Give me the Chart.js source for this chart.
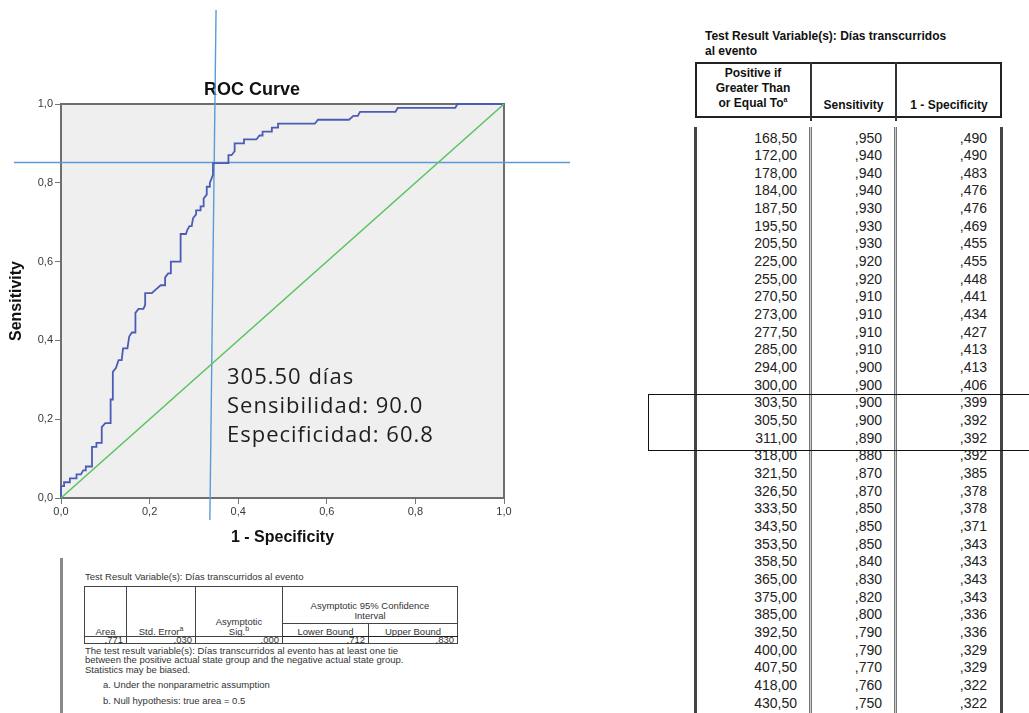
<!DOCTYPE html>
<html lang="es">
<head>
<meta charset="utf-8">
<title>ROC Curve</title>
<script src="https://cdn.jsdelivr.net/npm/chart.js@4.4.0/dist/chart.umd.min.js"></script>
<style>
  html, body { margin: 0; padding: 0; background: #fff; }
  body { width: 1029px; height: 713px; position: relative; overflow: hidden;
         font-family: "Liberation Sans", Arial, sans-serif; color: #222; }
  #rocWrap { position: absolute; left: 0; top: 0; width: 580px; height: 560px; }
  #nota { position: absolute; left: 227px; top: 361px; font-family: "Open Sans", sans-serif;
          font-size: 22px; line-height: 29px; letter-spacing: 1px; color: #1e1e1e; white-space: nowrap; }
  .ln { position: absolute; }
  /* tabla area */
  #aucTitulo { position: absolute; left: 85px; top: 571px; font-size: 9.5px; color: #333; white-space: nowrap; }
  table.auc { position: absolute; left: 84px; top: 586px; width: 373px; border-collapse: collapse;
              table-layout: fixed; font-size: 9.5px; color: #333; border: 1.5px solid #222; }
  table.auc td { border: 1px solid #444; padding: 0 3px; text-align: center; vertical-align: bottom;
                 line-height: 9.5px; white-space: nowrap; overflow: visible; }
  table.auc td.r { text-align: right; line-height: 6px; vertical-align: middle; }
  table.auc tr.sep td { border-bottom: 1.5px solid #222; }
  #aucNotas { position: absolute; left: 85px; top: 646px; font-size: 9.5px; line-height: 9.3px; color: #333; white-space: nowrap; }
  .nota2 { position: absolute; left: 103px; font-size: 9.5px; color: #333; white-space: nowrap; }
  sup { font-size: 7px; line-height: 0; }
  /* tabla coordenadas */
  #coordTitulo { position: absolute; left: 705px; top: 28.5px; font-weight: bold; font-size: 12px; line-height: 15px; color: #111; }
  .hcol { position: absolute; text-align: center; font-weight: bold; font-size: 12px; line-height: 15px; color: #111; }
  .fila { position: absolute; left: 695px; width: 307px; height: 17.66px; line-height: 17.66px; font-size: 14px; color: #222; }
  .fila span { position: absolute; top: 0; }
  .c1 { right: 205px; } .c2 { right: 120px; } .c3 { right: 15px; }
</style>
</head>
<body>

<div id="rocWrap"><canvas id="roc" width="580" height="560"></canvas></div>
<div id="nota">305.50 días<br>Sensibilidad: 90.0<br>Especificidad: 60.8</div>

<!-- area bajo la curva -->
<div class="ln" style="left:60px;top:558px;width:2.5px;height:160px;background:#8a8a8a"></div>
<div id="aucTitulo">Test Result Variable(s): Días transcurridos al evento</div>
<table class="auc">
  <colgroup><col style="width:42px"><col style="width:69px"><col style="width:87px"><col style="width:86px"><col style="width:89px"></colgroup>
  <tr style="height:37px">
    <td rowspan="2">Area</td><td rowspan="2">Std. Error<sup>a</sup></td><td rowspan="2">Asymptotic<br>Sig.<sup>b</sup></td>
    <td colspan="2" style="padding-bottom:3px">Asymptotic 95% Confidence<br>Interval</td>
  </tr>
  <tr class="sep" style="height:13px"><td>Lower Bound</td><td>Upper Bound</td></tr>
  <tr id="aucFila" style="height:6px"></tr>
</table>
<div id="aucNotas">The test result variable(s): Días transcurridos al evento has at least one tie<br>between the positive actual state group and the negative actual state group.<br>Statistics may be biased.</div>
<div class="nota2" style="top:679px">a. Under the nonparametric assumption</div>
<div class="nota2" style="top:695px">b. Null hypothesis: true area = 0.5</div>

<!-- coordenadas de la curva -->
<div id="coordTitulo">Test Result Variable(s): Días transcurridos<br>al evento</div>
<div class="ln" style="left:695px;top:61.5px;width:307px;height:56px;border:2px solid #222;box-sizing:border-box"></div>
<div class="ln" style="left:809.5px;top:61.5px;width:2px;height:59px;background:#333"></div>
<div class="ln" style="left:894.5px;top:61.5px;width:2px;height:59px;background:#333"></div>
<div class="hcol" style="left:695px;width:116px;top:65.5px">Positive if<br>Greater Than<br>or Equal To<sup>a</sup></div>
<div class="hcol" style="left:811px;width:85px;top:97.5px">Sensitivity</div>
<div class="hcol" style="left:896px;width:106px;top:97.5px">1 - Specificity</div>
<div class="ln" style="left:694px;top:127px;width:3px;height:600px;background:#444"></div>
<div class="ln" style="left:809px;top:127px;width:1px;height:600px;border-left:1px solid #777;border-right:1px solid #777;background:#ccc"></div>
<div class="ln" style="left:894px;top:127px;width:1px;height:600px;border-left:1px solid #777;border-right:1px solid #777;background:#ccc"></div>
<div class="ln" style="left:999.5px;top:127px;width:3.5px;height:600px;background:#444"></div>
<div id="filas"></div>
<div class="ln" style="left:648px;top:393.5px;width:420px;height:57.5px;border:1.5px solid #111;box-sizing:border-box;z-index:5"></div>

<script>
// curva ROC (1 - especificidad, sensibilidad)
const rocFpr = [0, 0, 0.007, 0.007, 0.02, 0.02, 0.035, 0.035, 0.045, 0.05, 0.056, 0.056, 0.07, 0.07,
  0.08, 0.08, 0.092, 0.092, 0.1, 0.112, 0.112, 0.117, 0.117, 0.124, 0.13, 0.137, 0.14, 0.15, 0.154,
  0.16, 0.168, 0.168, 0.175, 0.186, 0.19, 0.19, 0.205, 0.215, 0.225, 0.235, 0.235, 0.242, 0.248,
  0.248, 0.27, 0.27, 0.282, 0.285, 0.29, 0.295, 0.298, 0.305, 0.305, 0.315, 0.315, 0.322, 0.322,
  0.329, 0.329, 0.336, 0.336, 0.343, 0.343, 0.378, 0.378, 0.385, 0.392, 0.392, 0.413, 0.413,
  0.441, 0.448, 0.455, 0.455, 0.476, 0.476, 0.49, 0.49, 0.573, 0.58, 0.65, 0.66, 0.67, 0.675,
  0.755, 0.76, 0.89, 0.895, 1.0];
const rocSens = [0, 0.03, 0.03, 0.04, 0.04, 0.05, 0.05, 0.06, 0.06, 0.07, 0.07, 0.08, 0.08, 0.13,
  0.13, 0.14, 0.14, 0.18, 0.19, 0.19, 0.25, 0.25, 0.32, 0.33, 0.35, 0.35, 0.38, 0.38, 0.41,
  0.42, 0.42, 0.47, 0.48, 0.48, 0.49, 0.52, 0.52, 0.53, 0.54, 0.54, 0.56, 0.57, 0.57,
  0.60, 0.60, 0.67, 0.67, 0.68, 0.69, 0.69, 0.71, 0.72, 0.73, 0.73, 0.74, 0.74, 0.76,
  0.77, 0.79, 0.79, 0.80, 0.82, 0.85, 0.85, 0.87, 0.87, 0.88, 0.90, 0.90, 0.91,
  0.91, 0.92, 0.92, 0.93, 0.93, 0.94, 0.94, 0.95, 0.95, 0.96, 0.96, 0.97, 0.97, 0.98,
  0.98, 0.99, 0.99, 1.0, 1.0];
const diagFpr = [0, 1];
const diagSens = [0, 1];
// lineas de corte (sobresalen del area del grafico)
const corteVx = [0.35, 0.336];
const corteVy = [1.2386, -0.0558];
const corteHx = [-0.106, 1.149];
const corteHy = [0.8515, 0.8515];
const etiquetasEje = ["0,0", "0,2", "0,4", "0,6", "0,8", "1,0"];

// tabla de coordenadas
const umbrales = [168.5, 172, 178, 184, 187.5, 195.5, 205.5, 225, 255, 270.5, 273, 277.5, 285, 294,
  300, 303.5, 305.5, 311, 318, 321.5, 326.5, 333.5, 343.5, 353.5, 358.5, 365, 375, 385, 392.5,
  400, 407.5, 418, 430.5];
const sensibilidad = [0.950, 0.940, 0.940, 0.940, 0.930, 0.930, 0.930, 0.920, 0.920, 0.910, 0.910,
  0.910, 0.910, 0.900, 0.900, 0.900, 0.900, 0.890, 0.880, 0.870, 0.870, 0.850, 0.850, 0.850,
  0.840, 0.830, 0.820, 0.800, 0.790, 0.790, 0.770, 0.760, 0.750];
const unoMenosEspec = [0.490, 0.490, 0.483, 0.476, 0.476, 0.469, 0.455, 0.455, 0.448, 0.441, 0.434,
  0.427, 0.413, 0.413, 0.406, 0.399, 0.392, 0.392, 0.392, 0.385, 0.378, 0.378, 0.371, 0.343,
  0.343, 0.343, 0.343, 0.336, 0.336, 0.329, 0.329, 0.322, 0.322];

// area bajo la curva
const aucValores = [",771", ",030", ",000", ",712", ",830"];

const pares = (xs, ys) => xs.map((x, i) => ({ x: x, y: ys[i] }));
const dec3 = v => "," + v.toFixed(3).split(".")[1];

// filas de la tabla derecha
const filas = document.getElementById("filas");
umbrales.forEach((u, i) => {
  const f = document.createElement("div");
  f.className = "fila";
  f.style.top = (129.5 + i * 17.66) + "px";
  f.innerHTML = `<span class="c1">${u.toFixed(2).replace(".", ",")}</span>` +
    `<span class="c2">${dec3(sensibilidad[i])}</span><span class="c3">${dec3(unoMenosEspec[i])}</span>`;
  filas.appendChild(f);
});
const aucFila = document.getElementById("aucFila");
aucValores.forEach(v => {
  const td = document.createElement("td");
  td.className = "r";
  td.textContent = v;
  aucFila.appendChild(td);
});

// fondo gris y marco del area del grafico
const fondoPlot = {
  id: "fondoPlot",
  beforeDraw(chart) {
    const { ctx, chartArea: a } = chart;
    ctx.save();
    ctx.fillStyle = "#efefef";
    ctx.fillRect(a.left, a.top, a.right - a.left, a.bottom - a.top);
    ctx.restore();
  },
  beforeDatasetsDraw(chart) {
    const { ctx, chartArea: a } = chart;
    ctx.save();
    ctx.strokeStyle = "#6e6e6e";
    ctx.lineWidth = 2;
    ctx.strokeRect(a.left, a.top, a.right - a.left, a.bottom - a.top);
    ctx.restore();
  }
};

const fuenteTicks = { family: "Liberation Sans", size: 11 };
const fuenteTitulo = { family: "Liberation Sans", size: 16, weight: "bold" };
const linea = (data, color, w) => ({
  data: data, borderColor: color, borderWidth: w, showLine: true,
  pointRadius: 0, pointHoverRadius: 0, clip: false, tension: 0
});

new Chart(document.getElementById("roc"), {
  type: "scatter",
  data: {
    datasets: [
      linea(pares(diagFpr, diagSens), "#5cc45f", 1.6),
      linea(pares(rocFpr, rocSens), "#4b5cb6", 1.8),
      linea(pares(corteVx, corteVy), "#5b9bd5", 1.4),
      linea(pares(corteHx, corteHy), "#5b9bd5", 1.4)
    ]
  },
  options: {
    responsive: false,
    devicePixelRatio: 1,
    animation: false,
    layout: { padding: { left: 0, top: 70, right: 76, bottom: 0 } },
    plugins: {
      legend: { display: false },
      tooltip: { enabled: false },
      title: {
        display: true, text: "ROC Curve", color: "#111",
        font: { family: "Liberation Sans", size: 18, weight: "bold" },
        padding: { top: 9.4, bottom: 3 }
      }
    },
    scales: {
      x: {
        type: "linear", min: 0, max: 1,
        ticks: { stepSize: 0.2, font: fuenteTicks, color: "#3a3a3a", padding: 1, maxRotation: 0,
                 callback: v => etiquetasEje[Math.round(v * 5)] },
        grid: { drawOnChartArea: false, drawTicks: true, tickLength: 6, color: "#777" },
        border: { display: false },
        title: { display: true, text: "1 - Specificity", color: "#111", font: fuenteTitulo,
                 padding: { top: 4, bottom: 12.4 } },
        afterFit(s) { s.height = 62; }
      },
      y: {
        type: "linear", min: 0, max: 1,
        ticks: { stepSize: 0.2, font: fuenteTicks, color: "#3a3a3a", padding: 2,
                 callback: v => etiquetasEje[Math.round(v * 5)] },
        grid: { drawOnChartArea: false, drawTicks: true, tickLength: 6, color: "#777" },
        border: { display: false },
        title: { display: true, text: "Sensitivity", color: "#111", font: fuenteTitulo,
                 padding: { top: 7.4, bottom: 4 } },
        afterFit(s) { s.width = 61; }
      }
    }
  },
  plugins: [fondoPlot]
});
</script>
</body>
</html>
